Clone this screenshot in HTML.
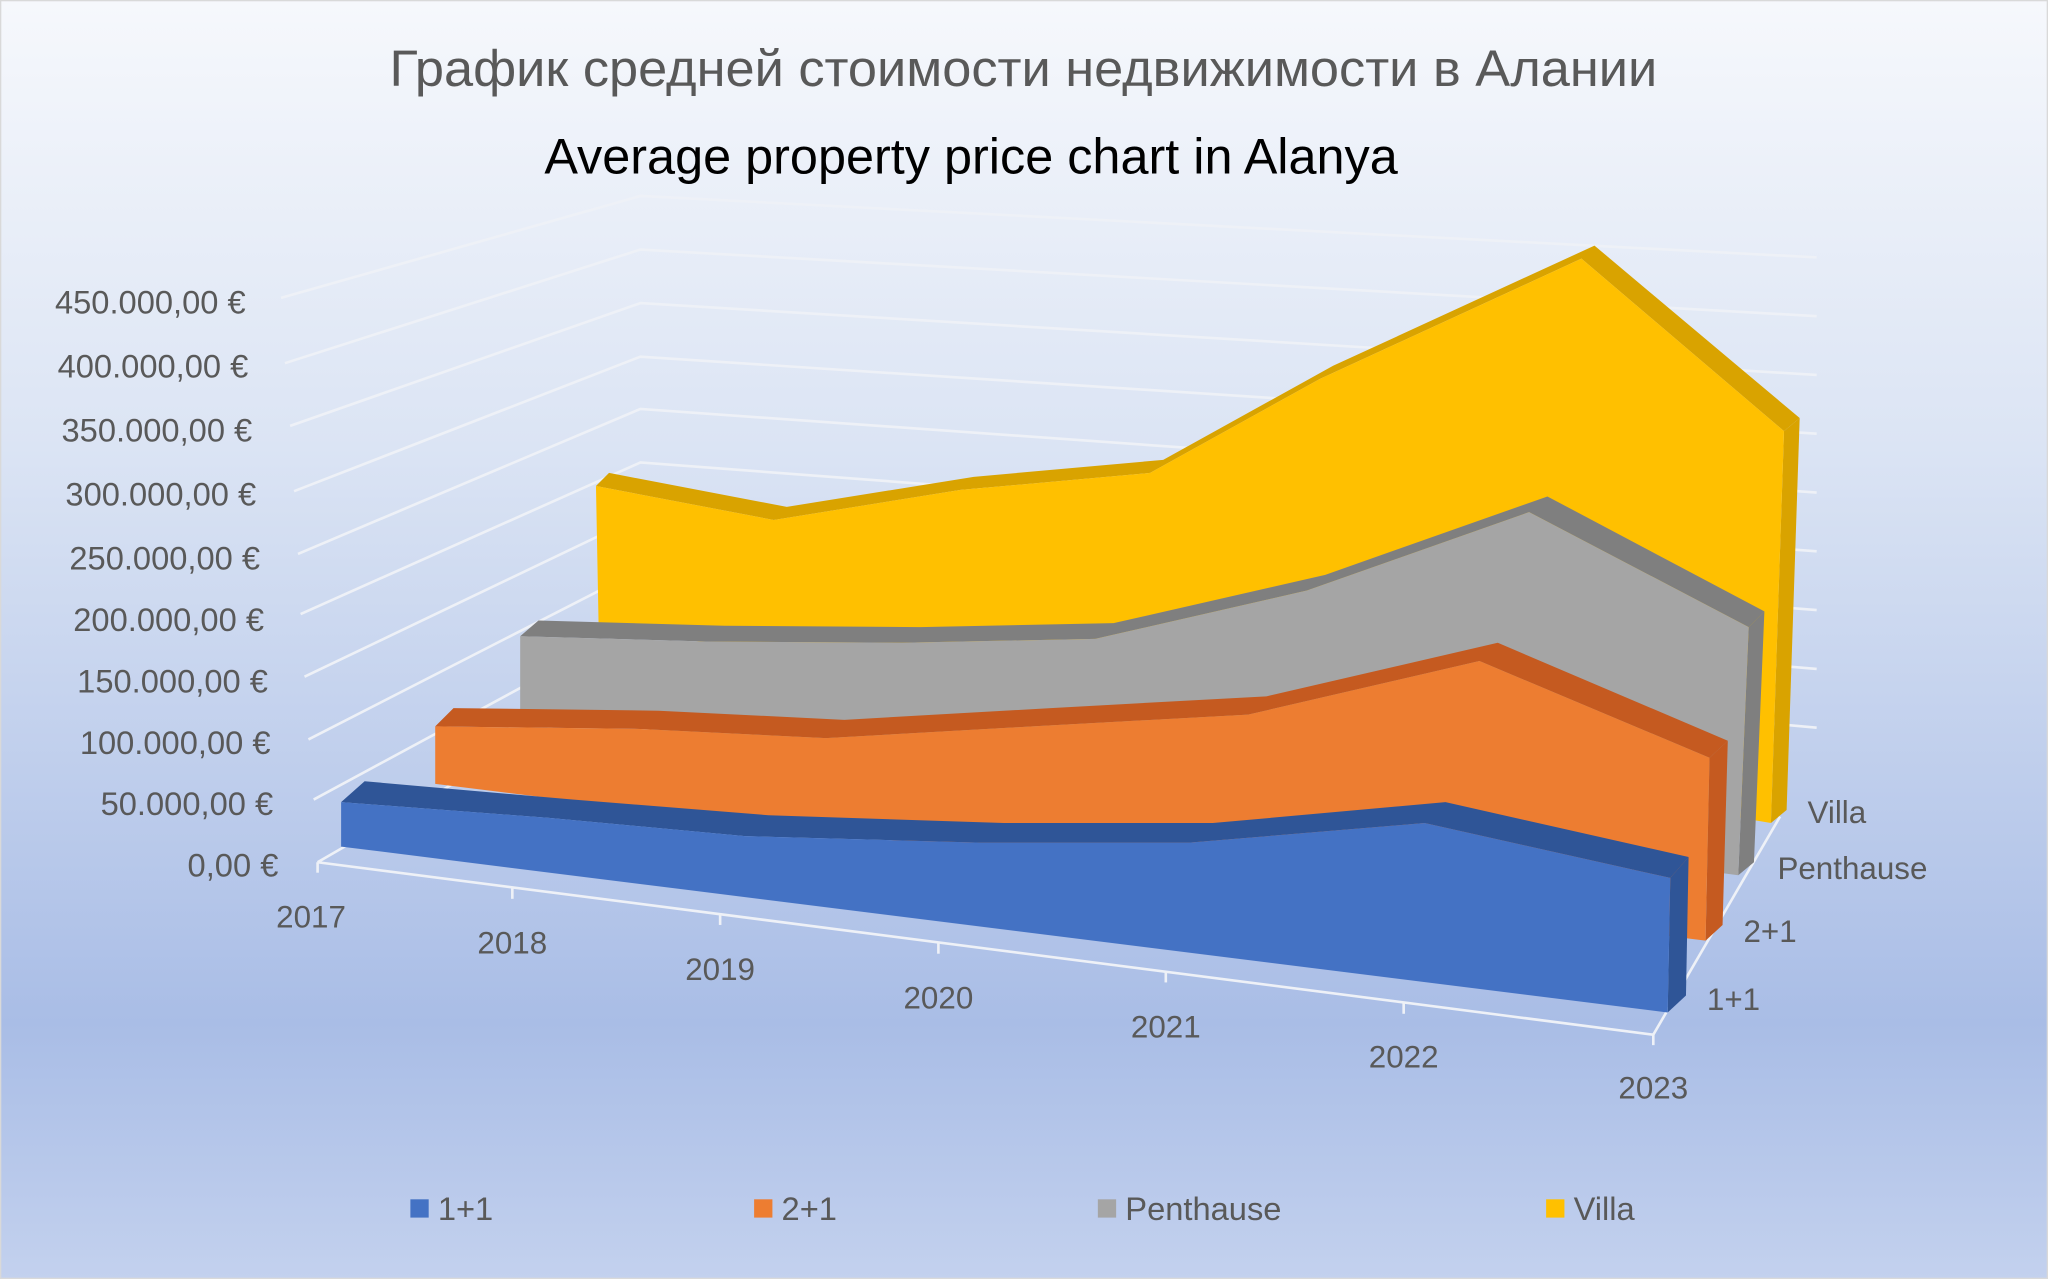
<!DOCTYPE html>
<html><head><meta charset="utf-8"><style>
html,body{margin:0;padding:0;width:2048px;height:1279px;overflow:hidden}
svg{display:block}
text{font-family:"Liberation Sans","DejaVu Sans",sans-serif}
</style></head><body>
<svg width="2048" height="1279" viewBox="0 0 1567 979" preserveAspectRatio="none" xmlns="http://www.w3.org/2000/svg">
<defs>
<linearGradient id="bg" x1="0" y1="0" x2="0" y2="1">
<stop offset="0" stop-color="#f6f8fc"/>
<stop offset="0.35" stop-color="#dbe4f4"/>
<stop offset="0.8" stop-color="#a9bde6"/>
<stop offset="1" stop-color="#c3d1ee"/>
</linearGradient>
</defs>
<rect x="0" y="0" width="1567" height="979" fill="url(#bg)"/>
<rect x="0.5" y="0.5" width="1566" height="978" fill="none" stroke="#d9d9d9"/>
<text x="783" y="66" font-size="39" fill="#595959" text-anchor="middle" textLength="970" lengthAdjust="spacingAndGlyphs">График средней стоимости недвижимости в Алании</text>
<text x="743" y="133" font-size="38" fill="#000" text-anchor="middle" textLength="653" lengthAdjust="spacingAndGlyphs">Average property price chart in Alanya</text>
<g stroke="#eef1f7" stroke-width="2" fill="none">
<polyline points="215,228 490,150 1390,197"/>
<polyline points="218,278 490,191 1390,242"/>
<polyline points="222,326 490,232 1390,287"/>
<polyline points="225,376 490,273 1390,332"/>
<polyline points="228,424 490,313 1390,377"/>
<polyline points="230,470 490,354 1390,422"/>
<polyline points="233,518 490,395 1390,467"/>
<polyline points="236,566 490,436 1390,512"/>
<polyline points="240,612 490,477 1390,557"/>
<polyline points="243,660 490,517"/>
<polyline points="243,660 1265,792 1362,625"/>
<line x1="243" y1="660" x2="243" y2="668"/><line x1="392" y1="680" x2="392" y2="688"/><line x1="551" y1="700" x2="551" y2="708"/><line x1="718" y1="722" x2="718" y2="730"/><line x1="892" y1="744" x2="892" y2="752"/><line x1="1074" y1="768" x2="1074" y2="776"/><line x1="1265" y1="792" x2="1265" y2="800"/>
</g>
<polygon points="466,362 602,388 745,365 890,352 1020,280 1220,188 1377,320 1365,330 1210,198 1010,290 880,362 735,375 592,398 456,372" fill="#d9a300"/>
<polygon points="1365,330 1377,320 1367,620 1355,630" fill="#d9a300"/>
<polygon points="456,372 592,398 735,375 880,362 1010,290 1210,198 1365,330 1355,630 458,478" fill="#ffc000"/>
<polygon points="412,475 554,479 704,480 852,477 1014,440 1184,380 1350,468 1338,480 1170,392 1000,452 838,489 690,492 540,491 398,487" fill="#7f7f7f"/>
<polygon points="1338,480 1350,468 1342,660 1330,670" fill="#7f7f7f"/>
<polygon points="398,487 540,491 690,492 838,489 1000,452 1170,392 1338,480 1330,670 398,545" fill="#a5a5a5"/>
<polygon points="347,542 504,544 646,551 804,542 969,533 1146,492 1322,567 1308,580 1132,506 955,547 790,556 632,565 490,558 333,556" fill="#c55a20"/>
<polygon points="1308,580 1322,567 1318,708 1305,720" fill="#c55a20"/>
<polygon points="333,556 490,558 632,565 790,556 955,547 1132,506 1308,580 1305,720 333,600" fill="#ed7d31"/>
<polygon points="279,598 438,612 588,624 768,630 928,630 1106,614 1292,656 1278,672 1090,630 910,645 750,645 570,640 420,626 261,614" fill="#2f5597"/>
<polygon points="1278,672 1292,656 1290,762 1276,775" fill="#2f5597"/>
<polygon points="261,614 420,626 570,640 750,645 910,645 1090,630 1278,672 1276,775 261,648" fill="#4472c4"/>
<g font-size="25" fill="#595959" text-anchor="end">
<text x="188" y="240">450.000,00 €</text>
<text x="190" y="289">400.000,00 €</text>
<text x="193" y="338">350.000,00 €</text>
<text x="196" y="387">300.000,00 €</text>
<text x="199" y="436">250.000,00 €</text>
<text x="202" y="483">200.000,00 €</text>
<text x="205" y="530">150.000,00 €</text>
<text x="207" y="577">100.000,00 €</text>
<text x="209" y="624">50.000,00 €</text>
<text x="213" y="671">0,00 €</text>
</g>
<g font-size="24" fill="#595959" text-anchor="middle">
<text x="238" y="710">2017</text><text x="392" y="730">2018</text><text x="551" y="750">2019</text><text x="718" y="772">2020</text><text x="892" y="794">2021</text><text x="1074" y="817">2022</text><text x="1265" y="841">2023</text>
</g>
<g font-size="24" fill="#595959">
<text x="1383" y="630">Villa</text><text x="1360" y="673">Penthause</text><text x="1334" y="721">2+1</text><text x="1306" y="773">1+1</text>
</g>
<g font-size="25" fill="#595959">
<rect x="314" y="918" width="14" height="14" fill="#4472c4"/><text x="335" y="934">1+1</text>
<rect x="577" y="918" width="14" height="14" fill="#ed7d31"/><text x="598" y="934">2+1</text>
<rect x="840" y="918" width="14" height="14" fill="#a5a5a5"/><text x="861" y="934">Penthause</text>
<rect x="1183" y="918" width="14" height="14" fill="#ffc000"/><text x="1204" y="934">Villa</text>
</g>
</svg>
</body></html>
